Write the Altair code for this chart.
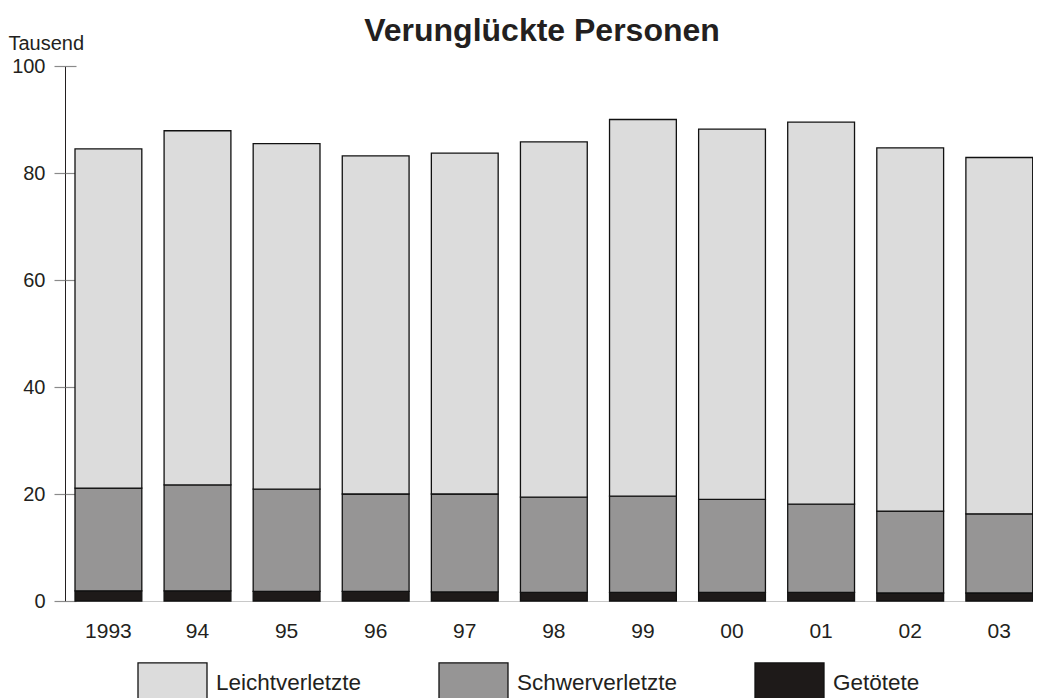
import altair as alt
import pandas as pd

years = ["1993", "94", "95", "96", "97", "98", "99", "00", "01", "02", "03"]
getoetete = [1.9, 1.9, 1.8, 1.8, 1.7, 1.6, 1.6, 1.6, 1.6, 1.5, 1.5]
schwer = [19.2, 19.8, 19.1, 18.2, 18.3, 17.8, 18.0, 17.4, 16.5, 15.3, 14.8]
leicht = [63.4, 66.2, 64.6, 63.2, 63.7, 66.4, 70.4, 69.2, 71.4, 67.9, 66.6]

categories = ["Leichtverletzte", "Schwerverletzte", "Getötete"]
colors = ["#dcdcdc", "#969595", "#1e1a19"]
stack_order = {"Getötete": 0, "Schwerverletzte": 1, "Leichtverletzte": 2}

rows = []
for i, y in enumerate(years):
    for cat, vals in (("Getötete", getoetete), ("Schwerverletzte", schwer), ("Leichtverletzte", leicht)):
        rows.append({"Jahr": y, "Kategorie": cat, "Wert": vals[i], "ord": stack_order[cat]})
df = pd.DataFrame(rows)

FONT = "Liberation Sans"
TXT = "#231f20"

base = alt.Chart(df)

bars = base.mark_bar(stroke="#111111", strokeWidth=1.3).encode(
    x=alt.X(
        "Jahr:N",
        sort=years,
        scale=alt.Scale(paddingInner=0.25, paddingOuter=0.0578, align=0.971),
        axis=alt.Axis(
            title=None, labelAngle=0, ticks=False, domainColor="#c8c8c8", domainWidth=1,
            labelFontSize=21, labelFont=FONT, labelColor=TXT, labelPadding=19,
        ),
    ),
    y=alt.Y(
        "Wert:Q",
        stack="zero",
        scale=alt.Scale(domain=[0, 100], nice=False),
        axis=alt.Axis(
            orient="left", values=[0, 20, 40, 60, 80, 100], tickSize=11, tickColor="#8a8a8a",
            tickWidth=1.2, domainColor="#231f20", domainWidth=1, grid=False,
            labelFontSize=20, labelFont=FONT, labelColor=TXT, labelPadding=9,
            title="Tausend", titleAngle=0, titleAlign="left", titleBaseline="alphabetic",
            titleX=-57, titleY=-17, titleFontSize=20, titleFont=FONT, titleFontWeight="normal",
            titleColor=TXT,
        ),
    ),
    color=alt.Color(
        "Kategorie:N",
        scale=alt.Scale(domain=categories, range=colors),
        legend=alt.Legend(
            title=None, orient="none", legendX=72, legendY=581, direction="horizontal",
            symbolType="M-1,-0.58H1V0.754H-1Z", symbolSize=4761, symbolStrokeColor="#111111",
            symbolStrokeWidth=1.3, symbolOpacity=1, labelFontSize=22.5, labelFont=FONT,
            labelColor=TXT, labelOffset=8, columnPadding=74, padding=0, labelLimit=400,
        ),
    ),
    order=alt.Order("ord:Q"),
)

inner_ticks = base.mark_point(opacity=0).encode(
    y=alt.Y(
        "Wert:Q",
        axis=alt.Axis(
            orient="left", offset=-11, values=[0, 20, 40, 60, 80, 100], tickSize=11,
            tickColor="#8a8a8a", tickWidth=1.2, domain=False, labels=False, title=None, grid=False,
        ),
    )
)

chart = (
    alt.layer(bars, inner_ticks)
    .resolve_axis(y="independent")
    .properties(
        width=968,
        height=535,
        autosize=alt.AutoSizeParams(type="none"),
        padding={"left": 57, "top": 58, "right": 0, "bottom": 97},
        title=alt.TitleParams(
            "Verunglückte Personen", fontSize=32, fontWeight="bold", font=FONT, color=TXT,
            anchor="middle", dx=-7, dy=19,
        ),
    )
    .configure_view(stroke=None)
)

chart.save("out.html", embed_options={"renderer": "svg", "actions": False})
